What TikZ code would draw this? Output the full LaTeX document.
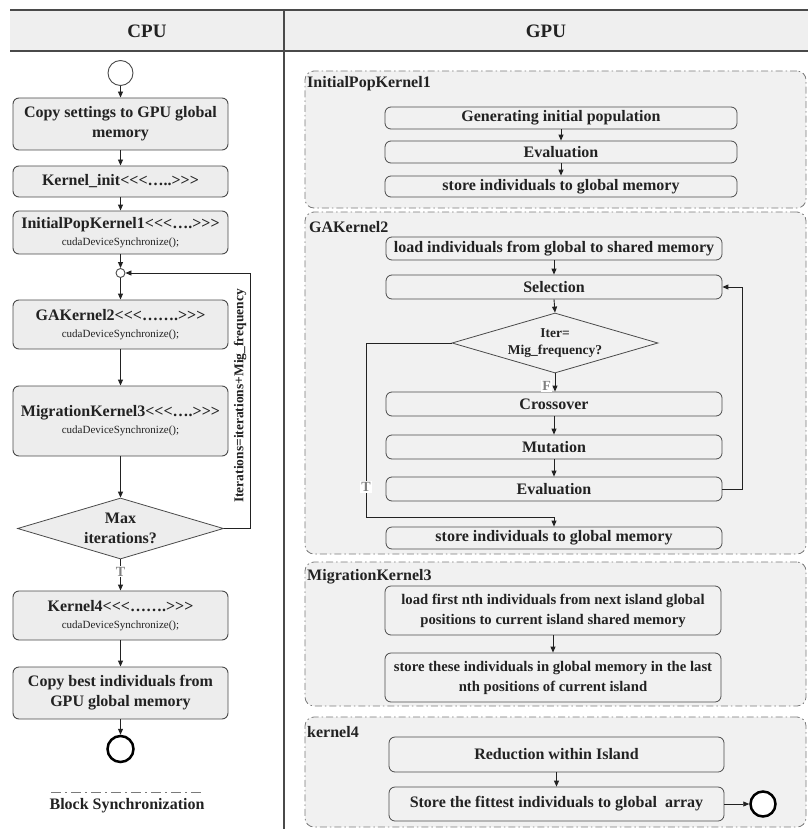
\documentclass[tikz,border=0pt]{standalone}
\usepackage{fontspec}
\setmainfont{Liberation Serif}
\usetikzlibrary{shapes.geometric,arrows.meta}

\definecolor{hdrfill}{HTML}{EFEFEF}
\definecolor{boxfill}{HTML}{EDEDED}
\definecolor{grpfill}{HTML}{F1F1F1}
\definecolor{edge}{HTML}{4A4A4A}
\definecolor{ink}{HTML}{222222}
\definecolor{dashgray}{HTML}{7A7A7A}

\newcommand{\bigfont}{\bfseries\fontsize{16}{20}\selectfont}
\newcommand{\midfont}{\bfseries\fontsize{14.7}{20}\selectfont}
\newcommand{\subline}[1]{{\normalfont\fontsize{11}{13}\selectfont #1}}
% launch brackets, kept apart so they are not turned into guillemets
\newcommand{\launchopen}{<\kern0pt<\kern0pt<}
\newcommand{\launchclose}{>\kern0pt>\kern0pt>}

\begin{document}
\begin{tikzpicture}[x=1pt,y=-1pt,
  cpubox/.style={draw=edge, line width=0.9pt, fill=boxfill, rounded corners=6pt,
    align=center, font=\bigfont, inner sep=0pt, text=ink},
  gpubox/.style={draw=edge, line width=0.8pt, fill=grpfill, rounded corners=6pt,
    align=center, font=\bigfont, inner sep=0pt, text=ink},
  grp/.style={draw=dashgray, line width=0.8pt,
    dash pattern=on 7pt off 3pt on 1.5pt off 3pt, fill=grpfill, rounded corners=9pt},
  grplbl/.style={font=\bigfont, text=ink, inner sep=0pt},
  decision/.style={diamond, shape aspect=3.4, draw=edge, line width=0.8pt,
    fill=boxfill, inner sep=0pt, align=center, text=ink},
  conn/.style={draw=ink, line width=0.9pt},
  arr/.style={conn, -{Triangle[length=6pt,width=5pt]}},
  tflabel/.style={fill=white, text=gray, font=\bfseries\fontsize{14}{14}\selectfont, inner sep=1pt},
  hdrtext/.style={font=\bfseries\fontsize{19}{22}\selectfont, text=ink},
  startnode/.style={circle, draw=edge, line width=0.9pt, fill=white, inner sep=0pt},
  endnode/.style={circle, draw=black, line width=2.5pt, fill=white, inner sep=0pt}
]
\useasboundingbox (0,0) rectangle (808,829);

% ---------- header band and column divider ----------
\fill[hdrfill] (10,10) rectangle (808,51);
\draw[edge, line width=1.6pt] (10,10) -- (808,10);
\draw[edge, line width=1.6pt] (10,51) -- (808,51);
\draw[edge, line width=1.2pt] (284,10) -- (284,829);
\node[hdrtext] (cpuhdr) at (147,31) {CPU};
\node[hdrtext] (gpuhdr) at (546,31) {GPU};

% ---------- CPU flow ----------
\node[startnode, minimum size=25pt] (start) at (120.5,73) {};
\node[cpubox, minimum width=215pt, minimum height=52pt] (b1) at (120.5,124)
  {Copy settings to GPU global\\memory};
\node[cpubox, minimum width=215pt, minimum height=31pt] (b2) at (120.5,181.5)
  {Kernel\_init\launchopen…..\launchclose};
\node[cpubox, minimum width=215pt, minimum height=43pt] (b3) at (120.5,232.5)
  {InitialPopKernel1\launchopen….\launchclose\\[-3pt]\subline{cudaDeviceSynchronize();}};
\node[startnode, minimum size=9pt] (junc) at (120.5,273) {};
\node[cpubox, minimum width=215pt, minimum height=49pt] (b4) at (120.5,324.5)
  {GAKernel2\launchopen…….\launchclose\\[-3pt]\subline{cudaDeviceSynchronize();}};
\node[cpubox, minimum width=215pt, minimum height=70pt] (b5) at (120.5,421)
  {MigrationKernel3\launchopen….\launchclose\\[-3pt]\subline{cudaDeviceSynchronize();}};
\node[decision, minimum width=206pt, minimum height=61pt, font=\bigfont] (maxit) at (120.5,528.5)
  {Max\\iterations?};
\node[cpubox, minimum width=215pt, minimum height=49pt] (b6) at (120.5,615.5)
  {Kernel4\launchopen…….\launchclose\\[-3pt]\subline{cudaDeviceSynchronize();}};
\node[cpubox, minimum width=215pt, minimum height=52pt] (b7) at (120.5,693)
  {Copy best individuals from\\GPU global memory};
\node[endnode, minimum size=26pt] (cpuend) at (120.5,749) {};

\draw[arr] (start) -- (b1);
\draw[arr] (b1) -- (b2);
\draw[arr] (b2) -- (b3);
\draw[arr] (b3) -- (junc);
\draw[arr] (junc) -- (b4);
\draw[arr] (b4) -- (b5);
\draw[arr] (b5) -- (maxit);
\draw[arr] (maxit) -- node[tflabel, pos=0.4] (tcpu) {T} (b6);
\draw[arr] (b6) -- (b7);
\draw[arr] (b7) -- (cpuend);

% loop back to the junction
\coordinate (cpuloop) at (250,273);
\draw[arr] (maxit.east) -| (cpuloop) -- (junc.east);
\node[rotate=90, font=\bfseries\fontsize{13.5}{15}\selectfont, text=ink] (itlbl) at (240,396)
  {Iterations=iterations+Mig\_frequency};

% legend
\coordinate (leg1) at (51,792);
\coordinate (leg2) at (202,792);
\draw[dashgray, line width=0.9pt, dash pattern=on 10pt off 4pt on 2pt off 4pt] (leg1) -- (leg2);
\node[font=\bigfont, text=ink] (legtxt) at (127,806) {Block Synchronization};

% ---------- GPU groups ----------
\node[grp, minimum width=501pt, minimum height=137pt] (g1) at (555.5,139.5) {};
\node[grp, minimum width=501pt, minimum height=342pt] (g2) at (555.5,383) {};
\node[grp, minimum width=501pt, minimum height=144pt] (g3) at (555.5,634) {};
\node[grp, minimum width=501pt, minimum height=110pt] (g4) at (555.5,772) {};

\node[grplbl, anchor=base west] (g1lbl) at (307,88) {InitialPopKernel1};
\node[grplbl, anchor=base west] (g2lbl) at (309,232) {GAKernel2};
\node[grplbl, anchor=base west] (g3lbl) at (307,580) {MigrationKernel3};
\node[grplbl, anchor=base west] (g4lbl) at (307,737) {kernel4};

% InitialPopKernel1
\node[gpubox, minimum width=352pt, minimum height=22pt] (ip1) at (561,118) {Generating initial population};
\node[gpubox, minimum width=352pt, minimum height=22pt] (ip2) at (561,152) {Evaluation};
\node[gpubox, minimum width=352pt, minimum height=21pt] (ip3) at (561,186.5) {store individuals to global memory};
\draw[arr] (ip1) -- (ip2);
\draw[arr] (ip2) -- (ip3);

% GAKernel2
\node[gpubox, minimum width=336pt, minimum height=23pt] (ga1) at (554,248.5) {load individuals from global to shared memory};
\node[gpubox, minimum width=336pt, minimum height=24pt] (ga2) at (554,287) {Selection};
\node[decision, fill=grpfill, minimum width=206pt, minimum height=60pt,
  font=\bfseries\fontsize{13.5}{17}\selectfont] (gadia) at (555,343) {Iter=\\Mig\_frequency?};
\node[gpubox, minimum width=336pt, minimum height=24pt] (ga3) at (554,404) {Crossover};
\node[gpubox, minimum width=336pt, minimum height=24pt] (ga4) at (554,447) {Mutation};
\node[gpubox, minimum width=336pt, minimum height=24pt] (ga5) at (554,489) {Evaluation};
\node[gpubox, minimum width=336pt, minimum height=22pt] (ga6) at (554,538) {store individuals to global memory};

\draw[arr] (ga1) -- (ga2);
\draw[arr] (ga2.south) -- (gadia.north);
\draw[arr] (gadia.south) -- (gadia.south |- ga3.north);
\node[tflabel, anchor=east] (fga) at (552,386) {F};
\draw[arr] (ga3) -- (ga4);
\draw[arr] (ga4) -- (ga5);
\coordinate (galoop) at (742,287);
\draw[arr] (ga5.east) -| (galoop) -- (ga2.east);
\coordinate (tcorner) at (366,517);
\draw[arr] (gadia.west) -| (tcorner) -| (ga6.north);
\node[tflabel] (tga) at (366,487) {T};

% MigrationKernel3
\node[gpubox, font=\midfont, minimum width=336pt, minimum height=49pt] (mk1) at (553,610.5)
  {load first nth individuals from next island global\\positions to current island shared memory};
\node[gpubox, font=\midfont, minimum width=336pt, minimum height=49pt] (mk2) at (553,677.5)
  {store these individuals in global memory in the last\\nth positions of current island};
\draw[arr] (mk1) -- (mk2);

% kernel4
\node[gpubox, minimum width=335pt, minimum height=35pt] (k1) at (556.5,754.5) {Reduction within Island};
\node[gpubox, minimum width=335pt, minimum height=34pt] (k2) at (556.5,804) {Store the fittest individuals to global\ \ array};
\node[endnode, minimum size=25pt] (gpuend) at (763,804) {};
\draw[arr] (k1) -- (k2);
\draw[arr] (k2) -- (gpuend);
\end{tikzpicture}
\end{document}
